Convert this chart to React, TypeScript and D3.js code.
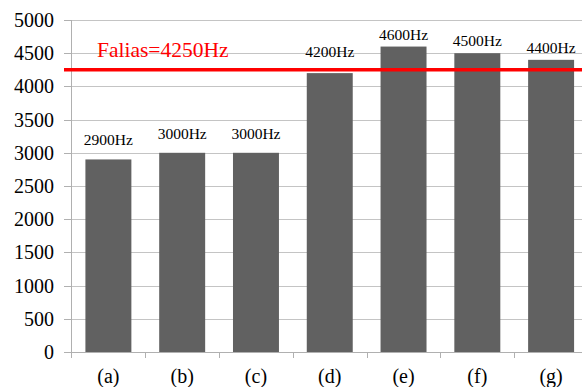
import React from "react";
import * as d3 from "d3";

const categories = ["(a)", "(b)", "(c)", "(d)", "(e)", "(f)", "(g)"];
const values = [2900, 3000, 3000, 4200, 4600, 4500, 4400];
const valueLabels = ["2900Hz", "3000Hz", "3000Hz", "4200Hz", "4600Hz", "4500Hz", "4400Hz"];
const yTicks = [0, 500, 1000, 1500, 2000, 2500, 3000, 3500, 4000, 4500, 5000];
const aliasValue = 4250;
const aliasLabel = "Falias=4250Hz";
// label gap above each bar (styling)
const labelGap = [14, 14, 14, 16, 7, 7, 7];

const W = 582;
const H = 387;
const left = 71.5;
const right = 588;
const top = 20;
const bottom = 352;
const font = "Liberation Serif";
const ts = { fontFamily: font };

export default function App() {
  const x = d3
    .scaleBand<string>()
    .domain(categories)
    .range([left, right])
    .paddingInner(0.377)
    .paddingOuter(0.1885);
  const step = (right - left) / categories.length;
  const y = d3.scaleLinear().domain([0, 5000]).range([bottom, top]);

  return (
    <svg
      width={W}
      height={H}
      style={{ position: "absolute", left: 0, top: 0, background: "#fff" }}
    >
      {yTicks.map((t) => (
        <g key={t}>
          {t > 0 && (
            <line x1={64} x2={W} y1={Math.round(y(t)) + 0.5} y2={Math.round(y(t)) + 0.5} stroke="#c4c4c4" strokeWidth={1} />
          )}
          <text x={54} y={y(t)} dy="0.35em" textAnchor="end" fontSize={20} fill="#000" style={ts}>
            {t}
          </text>
        </g>
      ))}
      <line x1={left} x2={left} y1={top} y2={358} stroke="#b0b0b0" strokeWidth={1} />
      <line x1={64} x2={W} y1={bottom + 0.5} y2={bottom + 0.5} stroke="#b0b0b0" strokeWidth={1} />
      {yTicks.map((t) => (
        <line key={"t" + t} x1={64} x2={left} y1={Math.round(y(t)) + 0.5} y2={Math.round(y(t)) + 0.5} stroke="#b0b0b0" />
      ))}
      {d3.range(1, categories.length + 1).map((i) => (
        <line key={"xt" + i} x1={Math.round(left + step * i) + 0.5} x2={Math.round(left + step * i) + 0.5} y1={bottom} y2={358} stroke="#b0b0b0" />
      ))}
      {categories.map((c, i) => (
        <rect
          key={c}
          x={x(c)!}
          y={y(values[i])}
          width={x.bandwidth()}
          height={bottom - y(values[i])}
          fill="#616161"
        />
      ))}
      {categories.map((c, i) => (
        <text
          key={"l" + c}
          x={x(c)! + x.bandwidth() / 2}
          y={y(values[i]) - labelGap[i]}
          textAnchor="middle"
          fontSize={15.5}
          fill="#000"
          style={ts}
        >
          {valueLabels[i]}
        </text>
      ))}
      {categories.map((c) => (
        <text key={"c" + c} x={x(c)! + x.bandwidth() / 2} y={383} textAnchor="middle" fontSize={20} fill="#000" style={ts}>
          {c}
        </text>
      ))}
      <line x1={64} x2={W} y1={y(aliasValue)} y2={y(aliasValue)} stroke="#ff0000" strokeWidth={3.5} />
      <text x={97} y={56.5} fontSize={21.5} fill="#ff0000" style={ts}>
        {aliasLabel}
      </text>
    </svg>
  );
}
